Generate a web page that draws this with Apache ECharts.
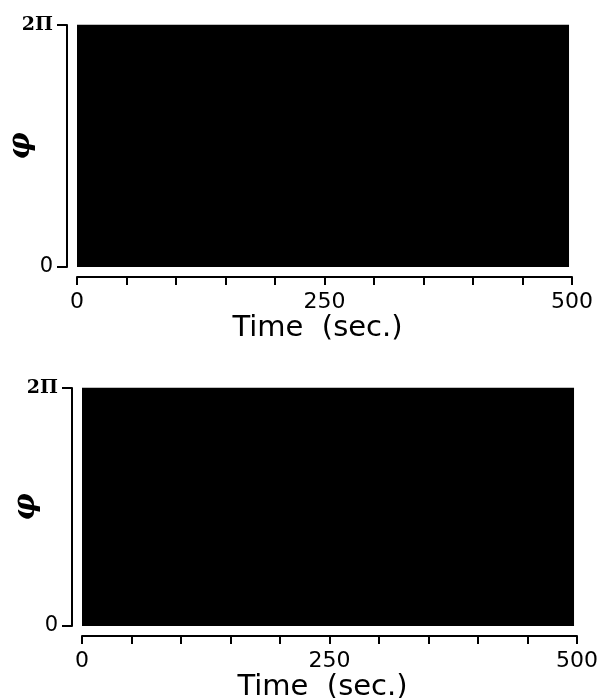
<!DOCTYPE html>
<html>
<head>
<meta charset="utf-8">
<script src="https://cdn.jsdelivr.net/npm/echarts@6/dist/echarts.min.js"></script>
<style>
  html, body { margin: 0; padding: 0; background: #fff; }
  #chart_container { width: 598px; height: 698px; }
</style>
</head>
<body>
<div id="chart_container"></div>
<script>
// phase trajectory fills the whole band, so each panel is drawn as its envelope
var timeSpan = [0, 497];            // sec
var phaseTopA = [6.2832, 6.2832];   // upper panel, phi reaches 2pi all along
var phaseTopB = [6.2832, 6.2832];   // lower panel
var timeTicks = [0, 250, 500];
var PHI_MAX = 6.2832;

function pairs(xs, ys) {
    return xs.map(function (x, i) { return [x, ys[i]]; });
}

function xAxisFor(idx) {
    return {
        type: 'value',
        gridIndex: idx,
        min: 0,
        max: 500,
        interval: 50,
        offset: 10,
        name: 'Time  (sec.)',
        nameLocation: 'middle',
        nameGap: 36,
        nameTextStyle: {
            fontFamily: 'DejaVu Sans', fontSize: 29, color: '#000',
            padding: [0, 14, 0, 0]
        },
        axisLine: { onZero: false, lineStyle: { color: '#000', width: 2 } },
        axisTick: { length: 8, lineStyle: { color: '#000', width: 2 } },
        axisLabel: {
            margin: 14,
            fontFamily: 'DejaVu Sans',
            fontSize: 22,
            color: '#000',
            formatter: function (v) {
                return timeTicks.indexOf(v) >= 0 ? String(v) : '';
            }
        },
        splitLine: { show: false }
    };
}

function yAxisFor(idx) {
    return {
        type: 'value',
        gridIndex: idx,
        min: 0,
        max: PHI_MAX,
        interval: PHI_MAX,
        offset: 10,
        name: 'φ',
        nameLocation: 'middle',
        nameRotate: 90,
        nameGap: 31,
        nameMoveOverlap: false,
        nameTextStyle: {
            fontFamily: 'DejaVu Serif', fontStyle: 'italic', fontWeight: 'bold',
            fontSize: 30, color: '#000'
        },
        axisLine: { onZero: false, lineStyle: { color: '#000', width: 2 } },
        axisTick: { length: 10, lineStyle: { color: '#000', width: 2 } },
        axisLabel: {
            margin: 14,
            formatter: function (v) {
                return v === 0 ? '{z|0}' : '{pi|2Π}';
            },
            rich: {
                z: { fontFamily: 'DejaVu Sans', fontSize: 21, color: '#000' },
                pi: { fontFamily: 'DejaVu Serif', fontWeight: 'bold', fontSize: 19, color: '#000' }
            }
        },
        splitLine: { show: false }
    };
}

function band(idx, tops) {
    return {
        type: 'line',
        xAxisIndex: idx,
        yAxisIndex: idx,
        data: pairs(timeSpan, tops),
        symbol: 'none',
        silent: true,
        lineStyle: { color: '#000', width: 1 },
        areaStyle: { color: '#000', opacity: 1, origin: 'start' }
    };
}

var myChart = echarts.init(document.getElementById('chart_container'));
var option = {
    backgroundColor: '#fff',
    animation: false,
    grid: [
        { left: 77, right: 26, top: 25, height: 242, containLabel: false, outerBoundsMode: 'none' },
        { left: 82, right: 21, top: 388, height: 238, containLabel: false, outerBoundsMode: 'none' }
    ],
    xAxis: [xAxisFor(0), xAxisFor(1)],
    yAxis: [yAxisFor(0), yAxisFor(1)],
    series: [band(0, phaseTopA), band(1, phaseTopB)]
};
myChart.setOption(option);
</script>
</body>
</html>
